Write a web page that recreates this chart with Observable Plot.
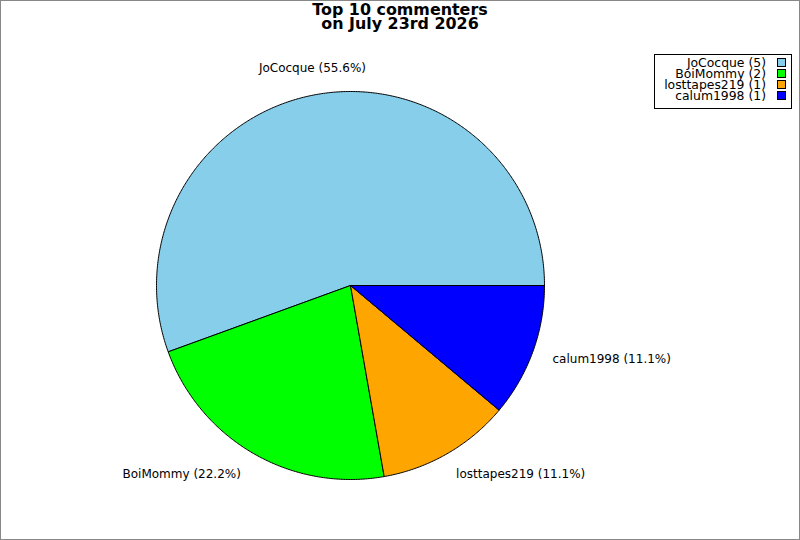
<!DOCTYPE html>
<html><head><meta charset="utf-8">
<script src="https://cdn.jsdelivr.net/npm/d3@7"></script>
<script src="https://cdn.jsdelivr.net/npm/@observablehq/plot@0.6"></script>
<style>
body{margin:0;background:#fff;font-family:"DejaVu Sans",sans-serif;}
#wrap{position:relative;width:800px;height:540px;overflow:hidden;background:#fff;}
#chart{position:absolute;left:0;top:0;}
#title{position:absolute;left:0;top:3px;width:800px;text-align:center;font-weight:bold;font-size:15.9px;line-height:14px;color:#000;}
#legend{position:absolute;left:654px;top:54px;width:136px;height:51px;border:1px solid #000;box-sizing:content-box;padding-top:2px;background:#fff;}
.row{display:flex;justify-content:flex-end;align-items:center;height:11px;line-height:11px;font-size:12.4px;padding-right:5px;white-space:nowrap;}
.lt{display:inline-block;height:11px;line-height:11px;overflow:visible;}
.sw{width:7px;height:7px;border:1px solid #000;margin-left:11px;}
#border{position:absolute;left:0;top:0;width:800px;height:540px;box-sizing:border-box;border:1px solid #888;pointer-events:none;}
</style></head>
<body>
<div id="wrap">
  <div id="chart"></div>
  <div id="title">Top 10 commenters<br>on July 23rd 2026</div>
  <div id="legend"></div>
  <div id="border"></div>
</div>
<script>
const names = ["JoCocque", "BoiMommy", "losttapes219", "calum1998"];
const counts = [5, 2, 1, 1];
const colors = ["#87ceeb", "#00ff00", "#ffa500", "#0000ff"];

const W = 800, H = 540;
const cx = 350, cy = 285, R = 194; // pixel placement of pie
const total = d3.sum(counts);

// slices: start at 3 o'clock, counter-clockwise
const slices = [];
let acc = 0;
counts.forEach((c, i) => {
  const a0 = acc / total * 2 * Math.PI;
  acc += c;
  const a1 = acc / total * 2 * Math.PI;
  slices.push({name: names[i], count: c, a0, a1, pct: (c / total * 100).toFixed(1)});
});

// polygon outline points for each slice (unit circle geometry)
const pts = [];
for (const s of slices) {
  pts.push({name: s.name, x: 0, y: 0});
  const n = Math.max(2, Math.ceil((s.a1 - s.a0) / (Math.PI / 360)));
  for (let k = 0; k <= n; k++) {
    const a = s.a0 + (s.a1 - s.a0) * k / n;
    pts.push({name: s.name, x: Math.cos(a), y: Math.sin(a)});
  }
  pts.push({name: s.name, x: 0, y: 0});
}

const LR = 1.13;
const labels = slices.map(s => {
  const m = (s.a0 + s.a1) / 2;
  const c = Math.cos(m);
  return {
    text: `${s.name} (${s.pct}%)`,
    x: LR * c, y: LR * Math.sin(m),
    anchor: c > 0.3 ? "start" : c < -0.3 ? "end" : "middle"
  };
});

const plot = Plot.plot({
  width: W, height: H,
  margin: 0,
  x: {domain: [-cx / R, (W - cx) / R], axis: null},
  y: {domain: [-(H - cy) / R, cy / R], axis: null},
  color: {domain: names, range: colors},
  style: {fontFamily: "DejaVu Sans, sans-serif", background: "transparent"},
  marks: [
    Plot.line(pts, {x: "x", y: "y", z: "name", fill: "name", stroke: "#000", strokeWidth: 1, curve: "linear"}),
    ...["start", "middle", "end"].map(an =>
      Plot.text(labels.filter(d => d.anchor === an), {
        x: "x", y: "y", text: "text", textAnchor: an, fontSize: 12, fill: "#000",
        dx: an === "start" ? -4 : 0, dy: -1
      }))
  ]
});
document.getElementById("chart").appendChild(plot);

const leg = document.getElementById("legend");
slices.forEach((s, i) => {
  const row = document.createElement("div");
  row.className = "row";
  const t = document.createElement("span");
  t.className = "lt";
  t.textContent = `${s.name} (${s.count})`;
  const sw = document.createElement("span");
  sw.className = "sw";
  sw.style.background = colors[i];
  row.appendChild(t); row.appendChild(sw);
  leg.appendChild(row);
});
</script>
</body></html>
